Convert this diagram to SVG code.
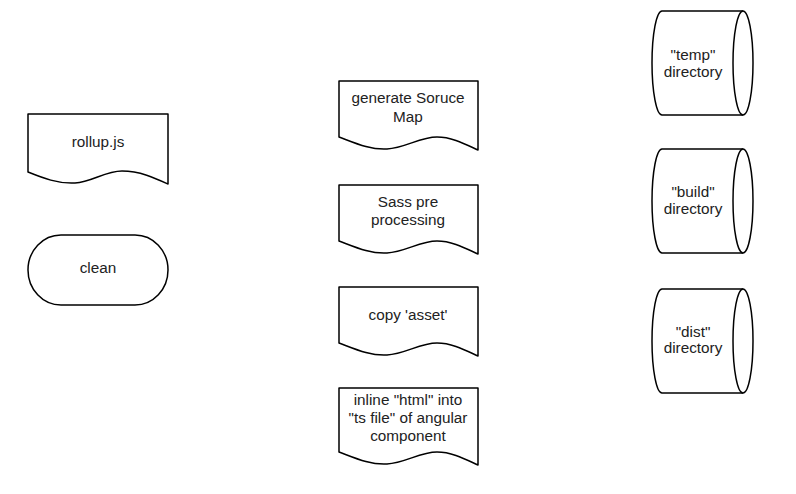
<svg xmlns="http://www.w3.org/2000/svg" width="796" height="494" viewBox="0 0 796 494">
<style>
.s{fill:#fff;stroke:#000;stroke-width:1.5;stroke-linejoin:round}
.t{font-family:"Liberation Sans",Arial,sans-serif;font-size:15.3px;fill:#222;text-anchor:middle}
</style>
<rect width="796" height="494" fill="#fff"/>
<g id="connectors"></g>
<g id="rollup">
<path class="s" d="M28,114 H168 V184 C155,178 140,171 122,171 C105,171 92,182 75,183 C58,184 43,178 28,172 Z"/>
<text class="t" x="98" y="147">rollup.js</text>
</g>
<g id="clean">
<rect class="s" x="28" y="235" width="140" height="70" rx="33" ry="35"/>
<text class="t" x="98" y="273">clean</text>
</g>
<g id="sourcemap">
<path class="s" d="M339,81 H478 V150 C465,144 452,137 437,137 C420,137 405,148 387,149 C370,150 355,143 339,137 Z"/>
<text class="t" x="408" y="103">generate Soruce</text>
<text class="t" x="408" y="122">Map</text>
</g>
<g id="sass">
<path class="s" d="M339,185 H478 V254 C465,248 452,241 437,241 C420,241 405,252 387,253 C370,254 355,247 339,241 Z"/>
<text class="t" x="408" y="207">Sass pre</text>
<text class="t" x="408" y="225">processing</text>
</g>
<g id="asset">
<path class="s" d="M339,287 H478 V356 C465,350 452,343 437,343 C420,343 405,354 387,355 C370,356 355,349 339,343 Z"/>
<text class="t" x="408" y="320">copy 'asset'</text>
</g>
<g id="inline">
<path class="s" d="M339,388 H478 V465 C465,459 452,452 437,452 C420,452 405,463 387,464 C370,465 355,458 339,452 Z"/>
<text class="t" x="408" y="405">inline "html" into</text>
<text class="t" x="408" y="423">"ts file" of angular</text>
<text class="t" x="408" y="441">component</text>
</g>
<g id="temp">
<path class="s" d="M662,11 H743 A10,52 0 0 1 743,115 H662 A10,52 0 0 1 662,11 Z"/>
<path class="s" fill="none" d="M743,11 A10,52 0 0 0 743,115"/>
<text class="t" x="693" y="60">"temp"</text>
<text class="t" x="693" y="77">directory</text>
</g>
<g id="build">
<path class="s" d="M662,149 H743 A10,52 0 0 1 743,253 H662 A10,52 0 0 1 662,149 Z"/>
<path class="s" fill="none" d="M743,149 A10,52 0 0 0 743,253"/>
<text class="t" x="693" y="197">"build"</text>
<text class="t" x="693" y="214">directory</text>
</g>
<g id="dist">
<path class="s" d="M662,289 H743 A10,52 0 0 1 743,393 H662 A10,52 0 0 1 662,289 Z"/>
<path class="s" fill="none" d="M743,289 A10,52 0 0 0 743,393"/>
<text class="t" x="693" y="337">"dist"</text>
<text class="t" x="693" y="353">directory</text>
</g>
</svg>
